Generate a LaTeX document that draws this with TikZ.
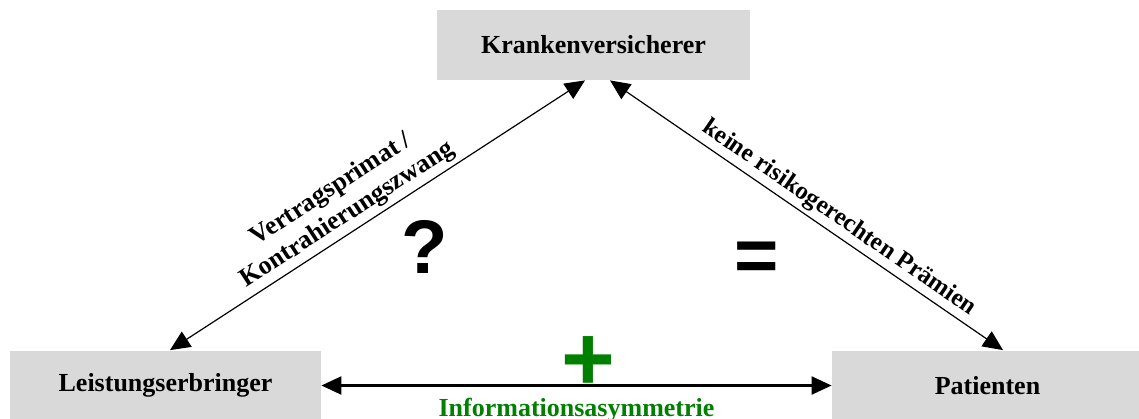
\documentclass[tikz,border=0pt]{standalone}
\usepackage{fontspec}
\setmainfont{Liberation Serif}
\setsansfont{Liberation Sans}
\usetikzlibrary{arrows.meta,positioning}
\definecolor{boxgray}{HTML}{D9D9D9}
\definecolor{infogreen}{HTML}{008000}
\tikzset{
    party/.style={fill=boxgray, minimum width=155.5pt, minimum height=35pt,
        font=\fontsize{13}{15}\selectfont\bfseries},
    rel/.style={{Triangle[length=10pt,width=9pt]}-{Triangle[length=10pt,width=9pt]}, line width=0.6pt},
    lbl/.style={font=\fontsize{13}{15}\selectfont\bfseries, align=center, inner sep=2pt},
    sign/.style={font=\fontsize{38}{40}\selectfont\sffamily\bfseries}
}
\begin{document}
\begin{tikzpicture}[x=0.5pt,y=-0.5pt]
    \useasboundingbox (0,0) rectangle (1139,418);
    % the three parties
    \node[party, minimum width=156.5pt] (kv) at (593.5,45) {Krankenversicherer};
    \node[party] (le) at (165.5,385.5) {Leistungserbringer};
    \node[party] (pat) at (987.5,385.5) {Patienten};
    % relations
    \draw[rel] ([xshift=2.25pt]le.north) --
        node[lbl, sloped, above, pos=0.45] {Vertragsprimat /\\Kontrahierungszwang}
        ([xshift=-4.25pt]kv.south);
    \draw[rel] ([xshift=8.25pt]kv.south) --
        node[lbl, sloped, above, pos=0.56, font=\fontsize{12.5}{15}\selectfont\bfseries] {keine risikogerechten Prämien}
        ([xshift=7.75pt]pat.north);
    \draw[rel, line width=1.1pt] (le.east) --
        node[lbl, below=4pt, text=infogreen] (info) {Informationsasymmetrie}
        (pat.west);
    % signs
    \node[sign] (qm) at (425,247) {?};
    \node[sign] (eq) at (757,262) {=};
    \node[sign, text=infogreen, font=\fontsize{46}{48}\selectfont\sffamily\bfseries] (plus) at (588,364) {+};
\end{tikzpicture}
\end{document}
